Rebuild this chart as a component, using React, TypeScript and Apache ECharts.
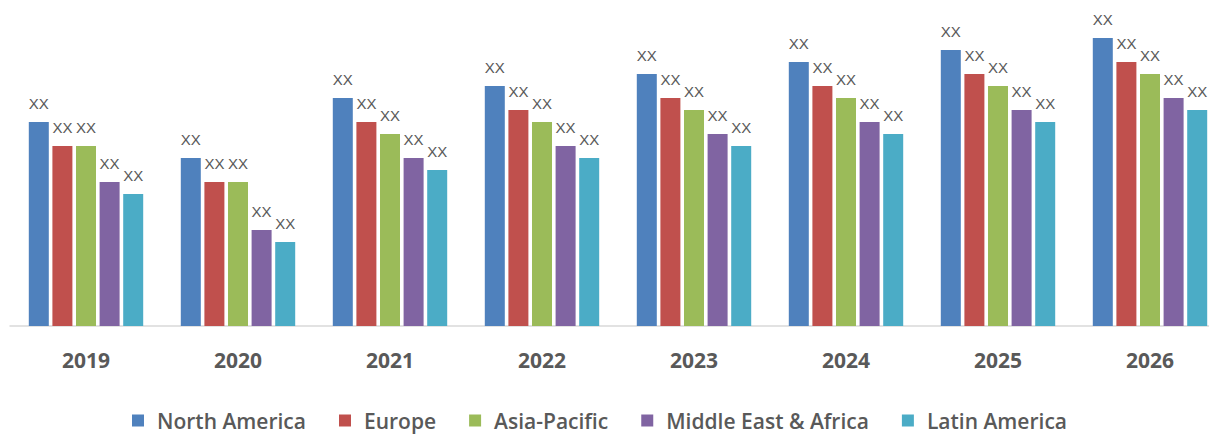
import React, { useEffect, useRef } from "react";
import * as echarts from "echarts";

const categories = ["2019", "2020", "2021", "2022", "2023", "2024", "2025", "2026"];
const northAmerica = [17, 14, 19, 20, 21, 22, 23, 24];
const europe = [15, 12, 17, 18, 19, 20, 21, 22];
const asiaPacific = [15, 12, 16, 17, 18, 19, 20, 21];
const middleEastAfrica = [12, 8, 14, 15, 16, 17, 18, 19];
const latinAmerica = [11, 7, 13, 14, 15, 16, 17, 18];

const seriesNames = ["North America", "Europe", "Asia-Pacific", "Middle East & Africa", "Latin America"];
const seriesData = [northAmerica, europe, asiaPacific, middleEastAfrica, latinAmerica];
const colors = ["#4F81BD", "#C0504D", "#9BBB59", "#8064A2", "#4BACC6"];

export default function App() {
  const ref = useRef<HTMLDivElement>(null);
  useEffect(() => {
    if (!ref.current) return;
    const chart = echarts.init(ref.current, undefined, { renderer: "svg" });
    chart.setOption({
      animation: false,
      color: colors,
      grid: { left: 10, top: 2, right: 0, height: 324, containLabel: false },
      legend: {
        top: 410,
        left: 132,
        padding: 0,
        itemWidth: 12,
        itemHeight: 12,
        itemGap: 33,
        icon: "rect",
        textStyle: {
          fontFamily: "Open Sans",
          fontWeight: 600,
          fontSize: 21,
          lineHeight: 20,
          color: "#595959",
          padding: [0, 0, 0, 8],
        },
        data: seriesNames,
      },
      xAxis: {
        type: "category",
        data: categories,
        axisLine: { lineStyle: { color: "#D9D9D9", width: 1.5 } },
        axisTick: { show: false },
        axisLabel: {
          margin: 23,
          fontFamily: "Open Sans",
          fontWeight: "bold",
          fontSize: 21,
          color: "#595959",
        },
      },
      yAxis: {
        type: "value",
        min: 0,
        max: 27,
        show: false,
        splitLine: { show: false },
      },
      series: seriesData.map((d, i) => ({
        name: seriesNames[i],
        type: "bar",
        data: d,
        barWidth: 20,
        barGap: "18%",
        itemStyle: { color: colors[i] },
        label: {
          show: true,
          position: "top",
          distance: 11,
          formatter: "XX",
          fontFamily: "Liberation Sans",
          fontSize: 15,
          color: "#595959",
        },
      })),
    });
    return () => chart.dispose();
  }, []);
  return (
    <div style={{ position: "absolute", left: 0, top: 0, width: 1209, height: 437, overflow: "hidden" }}>
      <div ref={ref} style={{ width: 1226, height: 437 }} />
    </div>
  );
}
